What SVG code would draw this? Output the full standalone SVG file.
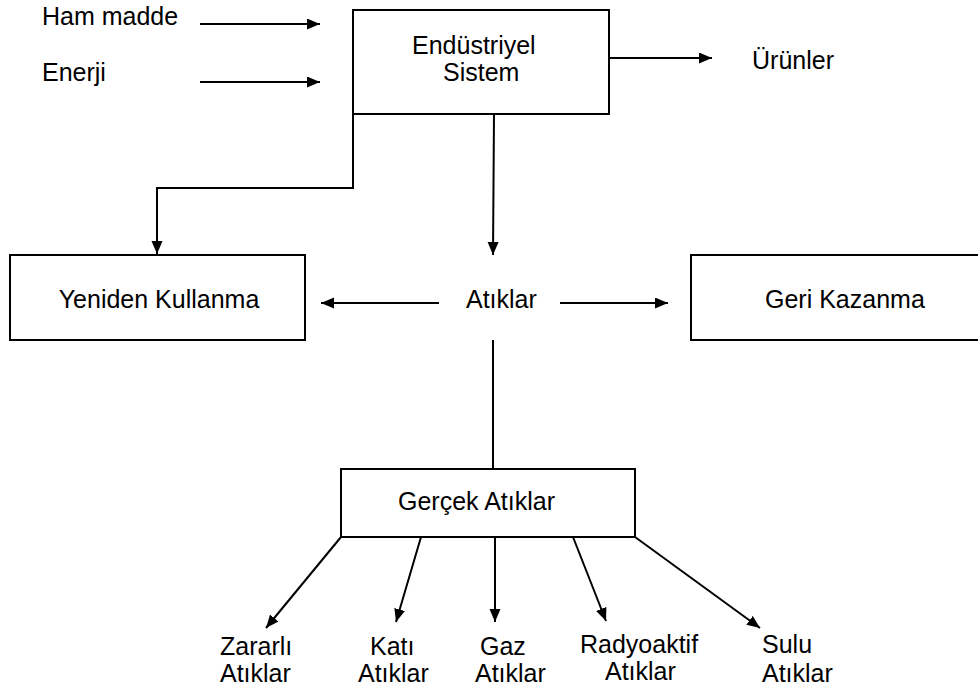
<svg xmlns="http://www.w3.org/2000/svg" width="978" height="691" viewBox="0 0 978 691">
<defs>
<marker id="ah" markerUnits="userSpaceOnUse" markerWidth="14" markerHeight="12" refX="13" refY="5.5" orient="auto">
<path d="M0,0 L13,5.5 L0,11 z" fill="#000"/>
</marker>
<style>
.t{font-family:"Liberation Sans",Arial,sans-serif;font-size:25px;fill:#000}
.box{fill:#fff;stroke:#000;stroke-width:2}
.c{stroke:#000;stroke-width:2;fill:none}
.a{marker-end:url(#ah)}
</style>
</defs>
<rect width="978" height="691" fill="#fff"/>
<g id="connectors">
<line class="c a" x1="200" y1="24" x2="320" y2="24"/>
<line class="c a" x1="200" y1="82" x2="320" y2="82"/>
<line class="c a" x1="609" y1="58" x2="712" y2="58"/>
<line class="c a" x1="494" y1="114" x2="493" y2="255"/>
<path class="c a" d="M353,114 V188 H157 V254"/>
<line class="c a" x1="439" y1="303" x2="321" y2="303"/>
<line class="c a" x1="560" y1="303" x2="668" y2="303"/>
<line class="c" x1="493" y1="340" x2="493" y2="469"/>
<line class="c a" x1="341" y1="537" x2="266" y2="628"/>
<line class="c a" x1="421" y1="537" x2="396" y2="622"/>
<line class="c a" x1="495" y1="537" x2="495" y2="622"/>
<line class="c a" x1="573" y1="537" x2="606" y2="621"/>
<line class="c a" x1="635" y1="537" x2="760" y2="628"/>
</g>
<g id="ham-madde"><text class="t" x="42" y="25">Ham madde</text></g>
<g id="enerji"><text class="t" x="42" y="81">Enerji</text></g>
<g id="endustriyel-sistem">
<rect class="box" x="353" y="10" width="256" height="104"/>
<text class="t" x="412" y="54">Endüstriyel</text>
<text class="t" x="443" y="81">Sistem</text>
</g>
<g id="urunler"><text class="t" x="752" y="69">Ürünler</text></g>
<g id="yeniden-kullanma">
<rect class="box" x="10" y="255" width="295" height="85"/>
<text class="t" x="159" y="308" text-anchor="middle">Yeniden Kullanma</text>
</g>
<g id="atiklar"><text class="t" x="466" y="308">Atıklar</text></g>
<g id="geri-kazanma">
<rect class="box" x="691" y="255" width="300" height="85"/>
<text class="t" x="765" y="308">Geri Kazanma</text>
</g>
<g id="gercek-atiklar">
<rect class="box" x="341" y="469" width="294" height="68"/>
<text class="t" x="398" y="510">Gerçek Atıklar</text>
</g>
<g id="zararli"><text class="t" x="220" y="655">Zararlı</text><text class="t" x="220" y="682">Atıklar</text></g>
<g id="kati"><text class="t" x="370" y="655">Katı</text><text class="t" x="358" y="682">Atıklar</text></g>
<g id="gaz"><text class="t" x="480" y="655">Gaz</text><text class="t" x="475" y="682">Atıklar</text></g>
<g id="radyoaktif"><text class="t" x="580" y="653">Radyoaktif</text><text class="t" x="605" y="680">Atıklar</text></g>
<g id="sulu"><text class="t" x="762" y="653">Sulu</text><text class="t" x="762" y="682">Atıklar</text></g>
</svg>
